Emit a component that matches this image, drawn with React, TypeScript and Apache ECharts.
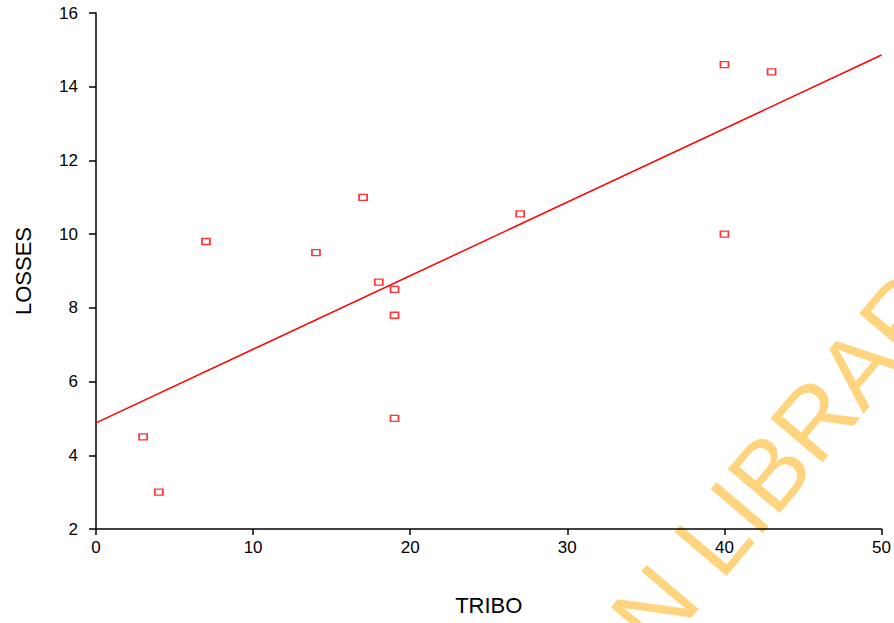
import React, { useEffect, useRef } from "react";
import * as echarts from "echarts";

const tribo = [3, 4, 7, 14, 17, 18, 19, 19, 19, 27, 40, 43, 40];
const losses = [4.5, 3, 9.8, 9.5, 11, 8.7, 8.5, 7.8, 5, 10.55, 14.6, 14.4, 10];
const fitX = [0, 50];
const fitY = [4.88, 14.86];
const xTitle = "TRIBO";
const yTitle = "LOSSES";
const watermarkBefore = "IBADAN";
const watermarkAfter = "LIBRARY";

export default function App() {
  const ref = useRef<HTMLDivElement>(null);
  useEffect(() => {
    document.body.style.margin = "0";
    const chart = echarts.init(ref.current!, null, { renderer: "svg" });
    const font = "'Liberation Sans', Arial, sans-serif";
    const wmStyle = {
      fontSize: 99,
      fontFamily: font,
      fill: "rgba(255,170,0,0.5)",
      verticalAlign: "middle",
    };
    chart.setOption({
      animation: false,
      backgroundColor: "#fff",
      grid: { left: 96, right: 11, top: 13, bottom: 94 },
      xAxis: {
        type: "value",
        min: 0,
        max: 50,
        interval: 10,
        name: xTitle,
        nameLocation: "middle",
        nameGap: 65,
        nameTextStyle: { fontSize: 22, color: "#000", fontFamily: font },
        axisLine: { lineStyle: { color: "#000", width: 1.5 } },
        axisTick: { show: true, length: 6, lineStyle: { color: "#000", width: 1.5 } },
        axisLabel: { fontSize: 17, color: "#000", fontFamily: font, margin: 10 },
        splitLine: { show: false },
      },
      yAxis: {
        type: "value",
        min: 2,
        max: 16,
        interval: 2,
        name: yTitle,
        nameLocation: "middle",
        nameRotate: 90,
        nameGap: 62,
        nameTextStyle: { fontSize: 22, color: "#000", fontFamily: font },
        axisLine: { show: true, lineStyle: { color: "#000", width: 1.5 } },
        axisTick: { show: true, length: 7, lineStyle: { color: "#000", width: 1.5 } },
        axisLabel: { fontSize: 17, color: "#000", fontFamily: font, margin: 18 },
        splitLine: { show: false },
      },
      series: [
        {
          type: "line",
          data: fitX.map((x, i) => [x, fitY[i]]),
          symbol: "none",
          lineStyle: { color: "#ff0000", width: 1.5 },
          z: 2,
        },
        {
          type: "scatter",
          data: tribo.map((x, i) => [x, losses[i]]),
          symbol: "rect",
          symbolSize: [8, 6],
          itemStyle: { color: "#fff", borderColor: "#ff0000", borderWidth: 1.5 },
          z: 3,
        },
      ],
      graphic: [
        {
          type: "group",
          x: 695,
          y: 560,
          rotation: 0.87,
          z: 100,
          children: [
            { type: "text", x: 0, y: 0, style: { ...wmStyle, text: watermarkAfter, align: "left" } },
            { type: "text", x: -27, y: 0, style: { ...wmStyle, text: watermarkBefore, align: "right" } },
          ],
        },
      ],
    });
    return () => chart.dispose();
  }, []);
  return <div ref={ref} style={{ width: 894, height: 623 }} />;
}
